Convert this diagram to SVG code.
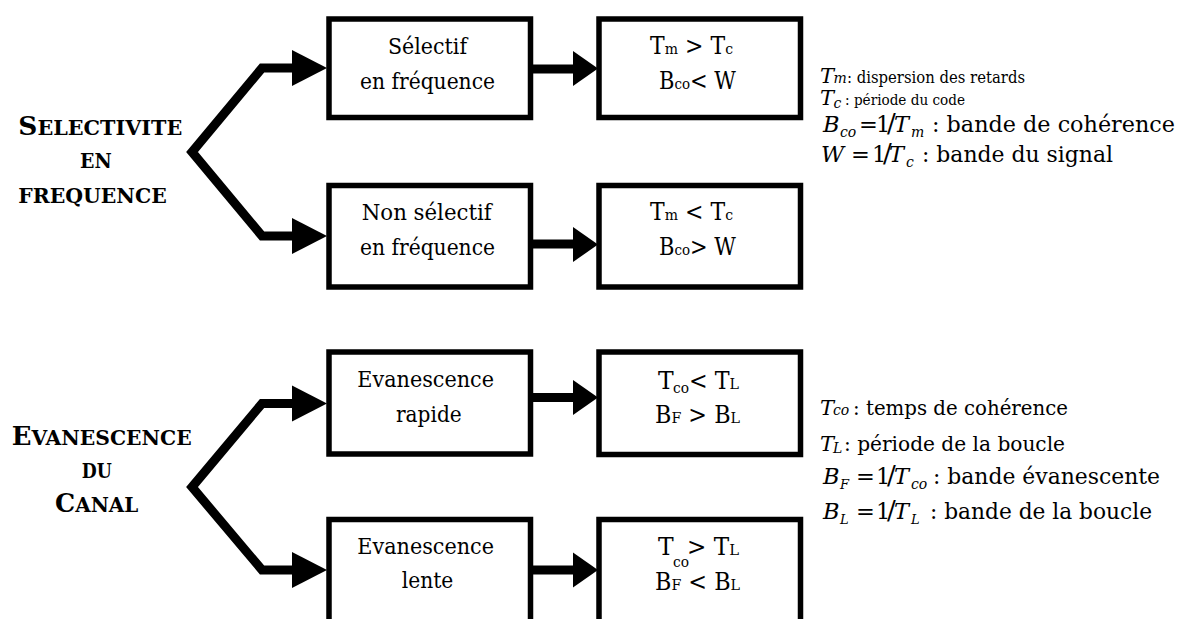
<svg xmlns="http://www.w3.org/2000/svg" width="1182" height="619" viewBox="0 0 1182 619">
<style>
text{fill:#000;font-family:"DejaVu Serif",serif}
.lbl{font-weight:bold}
.big{font-size:25.5px}
.sc{font-size:20px}
.box{fill:#fff;stroke:#000;stroke-width:5.5}
.bt{font-size:23px}
.ct{font-size:23.5px}
.sub{font-size:15px}
.it{font-style:italic}
.eq{font-size:22.5px}
.line{fill:none;stroke:#000;stroke-width:9;stroke-linejoin:miter}
.head{fill:#000}
</style>

<g id="label-selectivite" class="lbl">
<text x="18.3" y="135" textLength="164" lengthAdjust="spacingAndGlyphs"><tspan class="big">S</tspan><tspan class="sc">ELECTIVITE</tspan></text>
<text x="80" y="168.3" class="sc" textLength="31.7" lengthAdjust="spacingAndGlyphs">EN</text>
<text x="18.3" y="203.3" class="sc" textLength="148.4" lengthAdjust="spacingAndGlyphs">FREQUENCE</text>
</g>
<g id="label-evanescence" class="lbl">
<text x="11.7" y="445" textLength="180" lengthAdjust="spacingAndGlyphs"><tspan class="big">E</tspan><tspan class="sc">VANESCENCE</tspan></text>
<text x="81.7" y="478" class="sc" textLength="30" lengthAdjust="spacingAndGlyphs">DU</text>
<text x="55" y="511.7" textLength="83.3" lengthAdjust="spacingAndGlyphs"><tspan class="big">C</tspan><tspan class="sc">ANAL</tspan></text>
</g>

<g id="connectors">
<polyline class="line" points="292,68 262,68 192,152 262,236 292,236"/>
<polygon class="head" points="292,50 327,68 292,86"/>
<polygon class="head" points="292,218 327,236 292,254"/>
<polyline class="line" points="292,403.5 262,403.5 192,487 262,570 292,570"/>
<polygon class="head" points="292,385.5 327,403.5 292,421.5"/>
<polygon class="head" points="292,552 327,570 292,588"/>
<line class="line" x1="531" y1="69" x2="575" y2="69"/>
<polygon class="head" points="573,51 598,68.5 573,86"/>
<line class="line" x1="531" y1="244" x2="575" y2="244"/>
<polygon class="head" points="573,227 598,244.5 573,262"/>
<line class="line" x1="531" y1="397.5" x2="575" y2="397.5"/>
<polygon class="head" points="573,380 598,397.5 573,415"/>
<line class="line" x1="531" y1="570" x2="575" y2="570"/>
<polygon class="head" points="573,552.5 598,570 573,587.5"/>
</g>

<g id="node-selectif">
<rect class="box" x="329" y="19" width="201.5" height="98.5"/>
<text class="bt" x="388" y="53.7" textLength="79" lengthAdjust="spacingAndGlyphs">Sélectif</text>
<text class="bt" x="360" y="88.7" textLength="135" lengthAdjust="spacingAndGlyphs">en fréquence</text>
</g>
<g id="node-cond-selectif">
<rect class="box" x="599" y="19" width="201.5" height="98.5"/>
<text class="ct" x="650" y="53.7" textLength="83" lengthAdjust="spacingAndGlyphs">T<tspan class="sub">m</tspan> &gt; T<tspan class="sub">c</tspan></text>
<text class="ct" x="659" y="88.7" textLength="77" lengthAdjust="spacingAndGlyphs">B<tspan class="sub">co</tspan>&lt; W</text>
</g>
<g id="node-non-selectif">
<rect class="box" x="329" y="185.5" width="201.5" height="101.5"/>
<text class="bt" x="361.7" y="219.7" textLength="130" lengthAdjust="spacingAndGlyphs">Non sélectif</text>
<text class="bt" x="360" y="254.7" textLength="135" lengthAdjust="spacingAndGlyphs">en fréquence</text>
</g>
<g id="node-cond-non-selectif">
<rect class="box" x="599" y="185.5" width="201.5" height="101.5"/>
<text class="ct" x="650" y="219.7" textLength="83" lengthAdjust="spacingAndGlyphs">T<tspan class="sub">m</tspan> &lt; T<tspan class="sub">c</tspan></text>
<text class="ct" x="659" y="254.7" textLength="77" lengthAdjust="spacingAndGlyphs">B<tspan class="sub">co</tspan>&gt; W</text>
</g>
<g id="node-rapide">
<rect class="box" x="329" y="352" width="201.5" height="102"/>
<text class="bt" x="357.3" y="386.7" textLength="136.7" lengthAdjust="spacingAndGlyphs">Evanescence</text>
<text class="bt" x="396" y="421.7" textLength="65.7" lengthAdjust="spacingAndGlyphs">rapide</text>
</g>
<g id="node-cond-rapide">
<rect class="box" x="599" y="352" width="201.5" height="102.5"/>
<text class="ct" x="658" y="389">T</text>
<text class="sub" x="673" y="393" textLength="16" lengthAdjust="spacingAndGlyphs">co</text>
<text class="ct" x="689" y="389" textLength="50" lengthAdjust="spacingAndGlyphs">&lt; T<tspan class="sub">L</tspan></text>
<text class="ct" x="655" y="423" textLength="85" lengthAdjust="spacingAndGlyphs">B<tspan class="sub">F</tspan> &gt; B<tspan class="sub">L</tspan></text>
</g>
<g id="node-lente">
<rect class="box" x="329" y="519.5" width="201.5" height="104"/>
<text class="bt" x="357.3" y="553.7" textLength="136.7" lengthAdjust="spacingAndGlyphs">Evanescence</text>
<text class="bt" x="401.7" y="588.3" textLength="51.6" lengthAdjust="spacingAndGlyphs">lente</text>
</g>
<g id="node-cond-lente">
<rect class="box" x="599" y="519.5" width="201.5" height="104"/>
<text class="ct" x="658" y="555">T</text>
<text class="sub" x="673" y="567" textLength="16" lengthAdjust="spacingAndGlyphs">co</text>
<text class="ct" x="687" y="555" textLength="52" lengthAdjust="spacingAndGlyphs">&gt; T<tspan class="sub">L</tspan></text>
<text class="ct" x="655" y="589.5" textLength="85" lengthAdjust="spacingAndGlyphs">B<tspan class="sub">F</tspan> &lt; B<tspan class="sub">L</tspan></text>
</g>

<g id="legend-frequence">
<text y="83"><tspan x="820" class="it" font-size="21">T</tspan><tspan x="833.5" class="it" font-size="14">m</tspan></text>
<text x="847" y="83" font-size="16" textLength="178" lengthAdjust="spacingAndGlyphs">: dispersion des retards</text>
<text y="105"><tspan x="820" class="it" font-size="21">T</tspan><tspan x="833.5" y="108" class="it" font-size="14">c</tspan></text>
<text x="845" y="105" font-size="14.5" textLength="120" lengthAdjust="spacingAndGlyphs">: période du code</text>
<text y="132" class="eq"><tspan x="823" class="it">B</tspan><tspan x="840" y="137" class="it" font-size="14">co</tspan><tspan x="859" y="132">=</tspan><tspan x="876">1</tspan><tspan x="887" font-size="26">/</tspan><tspan x="894" class="it">T</tspan><tspan x="911" y="137" class="it" font-size="14">m</tspan></text>
<text x="932" y="132" font-size="23" textLength="243" lengthAdjust="spacingAndGlyphs">: bande de cohérence</text>
<text y="162" class="eq"><tspan x="821" class="it">W</tspan><tspan x="851" y="162">=</tspan><tspan x="872">1</tspan><tspan x="883" font-size="26">/</tspan><tspan x="889" class="it">T</tspan><tspan x="906" y="167" class="it" font-size="14">c</tspan></text>
<text x="922" y="162" font-size="22.5" textLength="191" lengthAdjust="spacingAndGlyphs">: bande du signal</text>
</g>
<g id="legend-evanescence">
<text y="415"><tspan x="820" class="it" font-size="21">T</tspan><tspan x="833" class="it" font-size="14">co</tspan></text>
<text x="853" y="415" font-size="20.5" textLength="215" lengthAdjust="spacingAndGlyphs">: temps de cohérence</text>
<text y="451"><tspan x="820" class="it" font-size="21">T</tspan><tspan x="833" y="453" class="it" font-size="14">L</tspan></text>
<text x="844" y="451" font-size="21" textLength="221" lengthAdjust="spacingAndGlyphs">: période de la boucle</text>
<text y="484" class="eq"><tspan x="823" class="it">B</tspan><tspan x="840" y="489" class="it" font-size="13">F</tspan><tspan x="856" y="484">=</tspan><tspan x="876">1</tspan><tspan x="887" font-size="26">/</tspan><tspan x="894" class="it">T</tspan><tspan x="911" y="489" class="it" font-size="14">co</tspan></text>
<text x="933" y="484" font-size="22.5" textLength="227" lengthAdjust="spacingAndGlyphs">: bande évanescente</text>
<text y="519" class="eq"><tspan x="823" class="it">B</tspan><tspan x="840" y="524" class="it" font-size="13">L</tspan><tspan x="856" y="519">=</tspan><tspan x="876">1</tspan><tspan x="887" font-size="26">/</tspan><tspan x="894" class="it">T</tspan><tspan x="911" y="524" class="it" font-size="13">L</tspan></text>
<text x="930" y="519" font-size="22.5" textLength="222" lengthAdjust="spacingAndGlyphs">: bande de la boucle</text>
</g>
</svg>
